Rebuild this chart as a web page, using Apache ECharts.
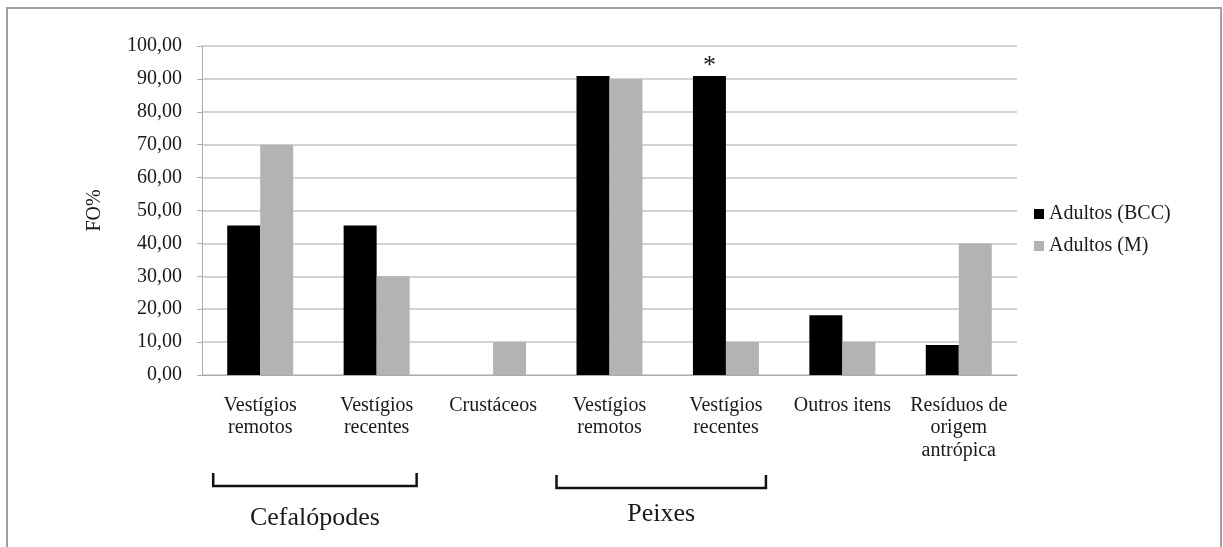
<!DOCTYPE html>
<html>
<head>
<meta charset="utf-8">
<script src="https://cdn.jsdelivr.net/npm/echarts@6/dist/echarts.min.js"></script>
<style>
html,body{margin:0;padding:0;background:#fff;}
#chart{width:1223px;height:547px;}
</style>
</head>
<body>
<div id="chart"></div>
<script>
const categories = ['Vestígios\nremotos', 'Vestígios\nrecentes', 'Crustáceos', 'Vestígios\nremotos', 'Vestígios\nrecentes', 'Outros itens', 'Resíduos de\norigem\nantrópica'];
const seriesNames = ['Adultos (BCC)', 'Adultos (M)'];
const bccValues = [45.45, 45.45, 0, 90.91, 90.91, 18.18, 9.09];
const mValues = [70, 30, 10, 90, 10, 10, 40];
const starIndex = 4;
const groups = [
  { name: 'Cefalópodes', from: 0, to: 1 },
  { name: 'Peixes', from: 3, to: 4 }
];

const FONT = '"Liberation Serif", "Times New Roman", serif';
const TXT = '#1a1a1a';
const chart = echarts.init(document.getElementById('chart'));

const bccData = bccValues.map((v, i) => i === starIndex ? {
  value: v,
  label: { show: true, position: 'top', distance: -3, formatter: '*', fontSize: 26, fontFamily: FONT, color: TXT }
} : v);

const option = {
  animation: false,
  backgroundColor: '#fff',
  textStyle: { fontFamily: FONT },
  grid: { left: 202, right: 206, top: 46, bottom: 172 },
  legend: {
    orient: 'vertical',
    left: 1029,
    top: 199,
    icon: 'rect',
    itemWidth: 10,
    itemHeight: 10,
    itemGap: 12,
    textStyle: { fontFamily: FONT, fontSize: 20, color: TXT, lineHeight: 20 },
    data: seriesNames
  },
  xAxis: {
    type: 'category',
    data: categories,
    axisLine: { lineStyle: { color: '#aaa', width: 1 } },
    axisTick: { show: false },
    axisLabel: { fontFamily: FONT, fontSize: 20, color: TXT, lineHeight: 22.5, margin: 19, interval: 0 }
  },
  yAxis: {
    type: 'value',
    min: 0,
    max: 100,
    interval: 10,
    name: 'FO%',
    nameLocation: 'middle',
    nameGap: 97,
    nameRotate: 90,
    nameTextStyle: { fontFamily: FONT, fontSize: 20, color: TXT },
    axisLine: { show: true, lineStyle: { color: '#aaa', width: 1 } },
    axisTick: { show: true, length: 5, lineStyle: { color: '#aaa' } },
    splitLine: { lineStyle: { color: '#c4c4c4', width: 1.5 } },
    axisLabel: {
      fontFamily: FONT, fontSize: 20, color: TXT, margin: 20,
      formatter: v => v.toFixed(2).replace('.', ',')
    }
  },
  series: [
    { name: seriesNames[0], type: 'bar', data: bccData, barWidth: 33, barGap: '0%', itemStyle: { color: '#000' } },
    { name: seriesNames[1], type: 'bar', data: mValues, barWidth: 33, barGap: '0%', itemStyle: { color: '#b3b3b3' } }
  ]
};
chart.setOption(option);

const gfx = [{
  type: 'rect',
  shape: { x: 7, y: 8, width: 1214, height: 600 },
  style: { fill: 'none', stroke: '#a0a0a0', lineWidth: 2 },
  silent: true
}];
groups.forEach((g, k) => {
  const x1 = chart.convertToPixel({ xAxisIndex: 0 }, g.from) - (k === 0 ? 47 : 53);
  const x2 = chart.convertToPixel({ xAxisIndex: 0 }, g.to) + 40;
  const yTop = k === 0 ? 473 : 475;
  const yBot = yTop + 13;
  gfx.push({
    type: 'polyline',
    shape: { points: [[x1, yTop], [x1, yBot], [x2, yBot], [x2, yTop]] },
    style: { stroke: '#111', lineWidth: 2.5, fill: 'none' },
    silent: true
  });
  gfx.push({
    type: 'text',
    x: (x1 + x2) / 2,
    y: k === 0 ? 518 : 514,
    style: { text: g.name, fontFamily: FONT, fontSize: 26, fill: TXT, align: 'center', verticalAlign: 'middle' },
    silent: true
  });
});
chart.setOption({ graphic: gfx });
</script>
</body>
</html>
